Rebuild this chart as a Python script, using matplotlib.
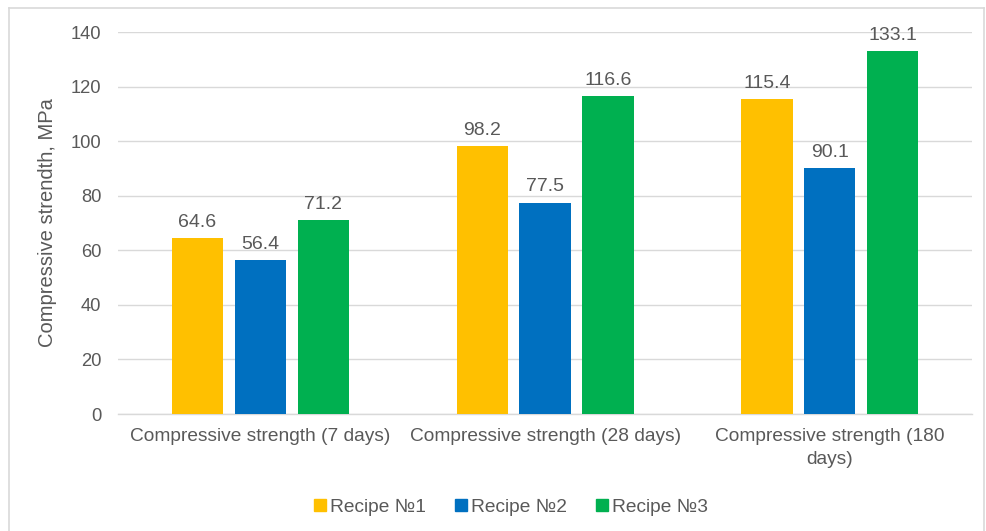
import matplotlib
matplotlib.use("Agg")
import matplotlib.pyplot as plt
import numpy as np
from matplotlib.lines import Line2D

categories = ["Compressive strength (7 days)", "Compressive strength (28 days)", "Compressive strength (180\ndays)"]
series_names = ["Recipe №1", "Recipe №2", "Recipe №3"]
recipe1 = [64.6, 98.2, 115.4]
recipe2 = [56.4, 77.5, 90.1]
recipe3 = [71.2, 116.6, 133.1]
colors = ["#FFC000", "#0070C0", "#00B050"]
yticks = [0, 20, 40, 60, 80, 100, 120, 140]

plt.rcParams['font.family'] = ['Liberation Sans', 'DejaVu Sans']
txt = "#595959"

fig = plt.figure(figsize=(9.87, 5.31), dpi=100)
ax = fig.add_axes([0.1196, 0.2203, 0.8654, 0.7194])

x = np.arange(len(categories))
w = 0.18
step = 0.221
for i, (vals, name, c) in enumerate(zip([recipe1, recipe2, recipe3], series_names, colors)):
    pos = x + (i - 1) * step
    ax.bar(pos, vals, width=w, color=c, label=name, zorder=3)
    for p, v in zip(pos, vals):
        ax.text(p, v + 2.6, f"{v:.1f}", ha="center", va="bottom", fontsize=14, color=txt)

ax.set_xlim(-0.5, 2.5)
ax.set_ylim(0, 140)
ax.set_yticks(yticks)
ax.set_xticks(x)
ax.set_xticklabels(categories, fontsize=13.8, color=txt, linespacing=1.45)
ax.tick_params(axis='y', labelsize=13.2, labelcolor=txt, length=0, pad=12)
ax.tick_params(axis='x', length=0, pad=10)
ax.grid(axis='y', color="#D9D9D9", linewidth=1, zorder=0)
for s in ["top", "right", "left"]:
    ax.spines[s].set_visible(False)
ax.spines["bottom"].set_color("#D9D9D9")
ax.spines["bottom"].set_linewidth(1)
ax.set_ylabel("Compressive strendth, MPa", fontsize=14.5, color=txt, labelpad=10)

handles = [Line2D([0], [0], marker='s', linestyle='', markersize=8, markerfacecolor=c, markeredgecolor=c) for c in colors]
fig.legend(handles, series_names, loc="center", bbox_to_anchor=(0.516, 0.045), ncol=3, frameon=False,
           fontsize=13.8, labelcolor=txt, handletextpad=0.05, columnspacing=1.3, handlelength=1.0)

# figure border
border_color = "#D9D9D9"
fig.add_artist(Line2D([0.009, 0.009], [0, 1 - 8/531], transform=fig.transFigure, color=border_color, lw=1.2))
fig.add_artist(Line2D([0.009, 0.997], [1 - 8/531, 1 - 8/531], transform=fig.transFigure, color=border_color, lw=1.2))
fig.add_artist(Line2D([0.997, 0.997], [0, 1 - 8/531], transform=fig.transFigure, color=border_color, lw=1.2))

fig.savefig("out.png", dpi=100)
